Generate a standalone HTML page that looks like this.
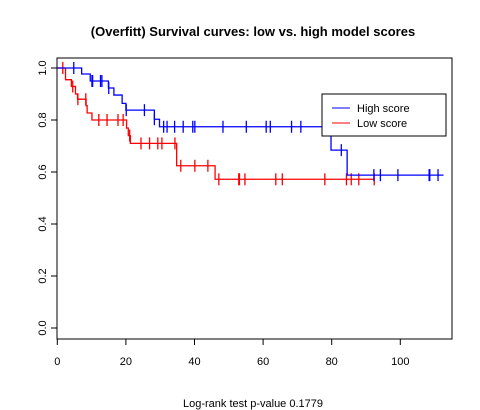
<!DOCTYPE html>
<html><head><meta charset="utf-8"><style>
body{margin:0;background:#fff;}
svg{display:block;font-family:"Liberation Sans",sans-serif;}
</style></head><body>
<svg id="chart" width="480" height="410">
<text x="253" y="36" text-anchor="middle" font-size="13" font-weight="bold">(Overfitt) Survival curves: low vs. high model scores</text>
<rect x="57" y="58" width="395" height="281" fill="none" stroke="#000"/>
<g id="axes"></g>
<g id="series"></g>
<g>
<rect x="322" y="94" width="124" height="42" fill="#fff" stroke="#000"/>
<line x1="332" y1="108" x2="350" y2="108" stroke="#00f"/>
<text x="357" y="112" font-size="11">High score</text>
<line x1="332" y1="123" x2="350" y2="123" stroke="#f00"/>
<text x="357" y="127" font-size="11">Low score</text>
</g>
<text x="253" y="407" text-anchor="middle" font-size="11">Log-rank test p-value  0.1779</text>
</svg>
<script>
const xTicks=[0,20,40,60,80,100];
const yTicks=[0,0.2,0.4,0.6,0.8,1.0];
const yTickLabels=["0.0","0.2","0.4","0.6","0.8","1.0"];
const highTimes=[7.1,9.6,14.9,16.5,18.9,20,28.3,29.8,79.8,84.5];
const highSurv=[0.977,0.95,0.923,0.896,0.864,0.838,0.803,0.774,0.684,0.588];
const highCensor=[4.8,10.1,10.3,12.6,13,15,20.1,25.4,28.3,31,32,34.2,36.7,39.5,40.1,48.3,55.1,60.9,62.1,68.3,71,82.8,92.3,94.2,99.3,108.4,108.6,111];
const highEnd=112.6;
const lowTimes=[2.4,4.1,5.3,5.9,8.4,8.7,10.1,20.2,20.7,21.3,34.8,46];
const lowSurv=[0.955,0.929,0.90,0.88,0.855,0.827,0.80,0.769,0.74,0.71,0.624,0.572];
const lowCensor=[1.6,4.5,6,8.3,12.1,14.5,17.7,19.2,21.1,24.4,26.9,29.3,30.5,34.3,36,40.1,43.9,47.1,52.9,53.1,54.7,63.7,65.6,78,84.3,85.7,87.9,92.4];
const lowEnd=92.4;

const X=t=>57.3+3.43*t;
const Y=s=>328-260*s;
const NS="http://www.w3.org/2000/svg";
function mk(tag,attrs,parent){const e=document.createElementNS(NS,tag);for(const k in attrs)e.setAttribute(k,attrs[k]);parent.appendChild(e);return e;}
const axes=document.getElementById('axes');
xTicks.forEach(v=>{
  const l=mk('line',{x1:X(v),x2:X(v),y1:339,y2:345,stroke:'#000'},axes);
  
  
  const t=mk('text',{x:X(v),y:365,'text-anchor':'middle','font-size':'11'},axes);
  
  
  t.textContent=v;
});
yTicks.forEach((v,i)=>{
  const l=mk('line',{x1:51,x2:57,y1:Y(v),y2:Y(v),stroke:'#000'},axes);
  
  
  const t=mk('text',{x:0,y:0,'text-anchor':'middle','font-size':'11',transform:`translate(46,${Y(v)}) rotate(-90)`},axes);
  
  
  t.textContent=yTickLabels[i];
});
const series=document.getElementById('series');
function surv(times,s,t){let v=1;for(let i=0;i<times.length;i++){if(times[i]<=t)v=s[i];}return v;}
function draw(times,s,cens,end,color,name){
  let d=`M${X(0)},${Y(1)}`;let cur=1;
  times.forEach((t,i)=>{d+=` H${X(t)} V${Y(s[i])}`;cur=s[i];});
  d+=` H${X(end)}`;
  const p=mk('path',{d:d,fill:'none',stroke:color,'stroke-width':'1.3'},series);
  
  
  cens.forEach(t=>{
    const y=Y(surv(times,s,t));
    const l=mk('line',{x1:X(t),x2:X(t),y1:y-6,y2:y+6,stroke:color,'stroke-width':'1.3'},series);
    
    
  });
}
draw(lowTimes,lowSurv,lowCensor,lowEnd,'#f00','low-score');
draw(highTimes,highSurv,highCensor,highEnd,'#00f','high-score');
</script>
</body></html>
